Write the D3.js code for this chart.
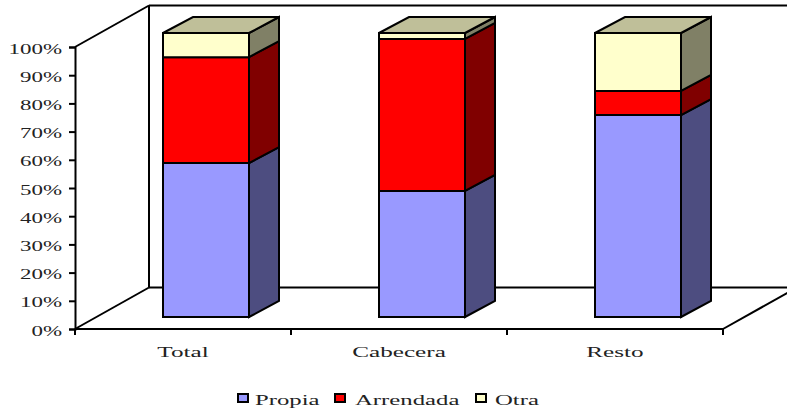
<!DOCTYPE html>
<html><head><meta charset="utf-8">
<script src="https://cdn.jsdelivr.net/npm/d3@7/dist/d3.min.js"></script>
<style>html,body{margin:0;background:#fff}svg{display:block}text{font-family:"Liberation Serif";fill:#222}</style>
</head><body><svg id="c" width="787" height="411"></svg>
<script>
const categories=["Total","Cabecera","Resto"];
const seriesNames=["Propia","Arrendada","Otra"];
const propia=[0.542,0.444,0.711];
const arrendada=[0.373,0.535,0.085];
const otra=[0.085,0.021,0.204];
const yTicks=[0,.1,.2,.3,.4,.5,.6,.7,.8,.9,1];
const frontColors=["#9999FF","#FF0000","#FFFFCC"];
const sideColors=["#4D4D80","#800000","#808066"];
const topColor="#BFBF99";

const svg=d3.select("#c");
const axisY=d3.scaleLinear().domain([0,1]).range([329,47]);
const x=d3.scaleBand().domain(categories).range([75,723]).paddingInner(0).paddingOuter(0);
const barY=d3.scaleLinear().domain([0,1]).range([317,33]);
const barLeft=c=>x(c)+88, barW=86, bdx=30, bdy=-16;
const wdx=74, wdy=-41.5;
const lw=2;
const line=(x1,y1,x2,y2)=>svg.append("line").attr("x1",x1).attr("y1",y1).attr("x2",x2).attr("y2",y2).attr("stroke","#000").attr("stroke-width",lw);

// walls and floor
line(75+wdx,axisY(0)+wdy,75+wdx,axisY(1)+wdy);
line(75+wdx,axisY(1)+wdy,800,axisY(1)+wdy);
line(75,axisY(1),75+wdx,axisY(1)+wdy);
line(75,axisY(0),75+wdx,axisY(0)+wdy);
line(75+wdx,axisY(0)+wdy,800,axisY(0)+wdy);
line(723,329,723+wdx,329+wdy);

// axes
const ya=svg.append("g").attr("transform","translate(75,0)").call(d3.axisLeft(axisY).tickValues(yTicks).tickFormat(d3.format(".0%")).tickSize(6));
ya.selectAll("path,line").attr("stroke","#000").attr("stroke-width",lw);
ya.selectAll("text").attr("font-size",15).attr("font-family","Liberation Serif").attr("fill","#222")
  .attr("x",0).attr("dy",0).attr("text-anchor","end").attr("transform","translate(-13,6) scale(1.53,1)");
const xa=svg.append("g").attr("transform","translate(0,329)").call(d3.axisBottom(x).tickSize(0));
xa.select("path").remove();
xa.selectAll("text").attr("font-size",15).attr("font-family","Liberation Serif").attr("fill","#222")
  .attr("y",0).attr("dy",0).attr("text-anchor","middle").attr("transform","translate(0,28) scale(1.68,1)");
svg.append("g").selectAll("line").data([...categories.map(c=>x(c)),x.range()[1]]).join("line")
 .attr("x1",d=>d).attr("x2",d=>d).attr("y1",329).attr("y2",335).attr("stroke","#000").attr("stroke-width",lw);
line(75,329,723,329);

// bars
const series=[propia,arrendada,otra];
const stack=d3.stack().keys([0,1,2]).value((d,k)=>series[k][d])(categories.map((_,i)=>i));
categories.forEach((c,i)=>{
  const g=svg.append("g").attr("stroke","#000").attr("stroke-width",lw).attr("stroke-linejoin","miter");
  const L=barLeft(c),R=L+barW;
  stack.forEach((s,k)=>{
    const y0=barY(s[i][0]),y1=barY(s[i][1]);
    g.append("path").attr("fill",sideColors[k]).attr("d",`M${R},${y0}L${R+bdx},${y0+bdy}L${R+bdx},${y1+bdy}L${R},${y1}Z`);
    g.append("path").attr("fill",frontColors[k]).attr("d",`M${L},${y0}L${R},${y0}L${R},${y1}L${L},${y1}Z`);
  });
  const t=barY(1);
  g.append("path").attr("fill",topColor).attr("d",`M${L},${t}L${R},${t}L${R+bdx},${t+bdy}L${L+bdx},${t+bdy}Z`);
});

// legend
const legX=[238,335,476], legT=[255,355,495];
seriesNames.forEach((n,i)=>{
  svg.append("rect").attr("x",legX[i]).attr("y",394).attr("width",10).attr("height",8).attr("fill",frontColors[i]).attr("stroke","#000").attr("stroke-width",lw);
  svg.append("text").attr("transform",`translate(${legT[i]},405) scale(1.65,1)`).attr("font-size",15).text(n);
});
</script></body></html>
